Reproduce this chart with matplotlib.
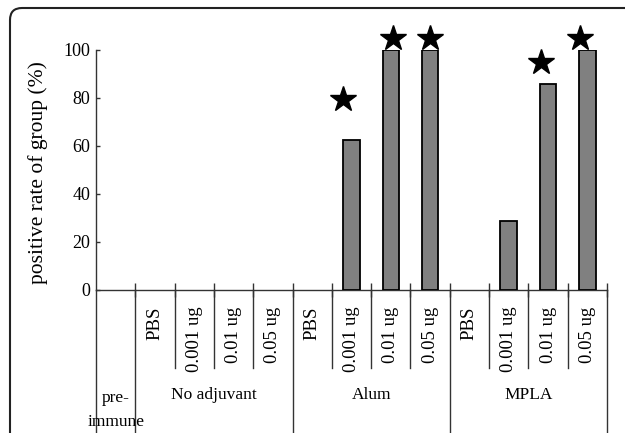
import matplotlib.pyplot as plt
from matplotlib.patches import FancyBboxPatch

plt.rcParams['font.family'] = ['Liberation Serif', 'DejaVu Serif']

groups = ['No adjuvant', 'Alum', 'MPLA']
doses = ['PBS', '0.001 ug', '0.01 ug', '0.05 ug']
first_label = 'pre-\nimmune'

# positive rate (%) per column: pre-immune, then 4 doses per group
pre_immune = [0]
no_adjuvant = [0, 0, 0, 0]
alum = [0, 62.5, 100, 100]
mpla = [0, 28.6, 85.7, 100]

# significance stars (column position, height in %)
star_x = [6.28, 7.56, 8.5, 11.33, 12.31]
star_y = [79.5, 105, 105, 95, 105]

values = pre_immune + no_adjuvant + alum + mpla
n = len(values)
line_col = '#333333'

fig = plt.figure(figsize=(6.25, 4.33), dpi=100)

# rounded outer frame
frame = FancyBboxPatch((0.10, -1.0), 7.0, 5.25, boxstyle="round,pad=0,rounding_size=0.12",
                       transform=fig.dpi_scale_trans, fill=False, edgecolor='#222222', linewidth=1.5)
fig.patches.append(frame)

ax = fig.add_axes([0.1536, 0.3303, 0.8176, 0.5543])
xs = [i + 0.5 for i in range(n)]
edges = ['black' if v > 0 else 'none' for v in values]
ax.bar(xs, values, width=0.42, color='#808080', edgecolor=edges, linewidth=1.3, zorder=3)
ax.plot(star_x, star_y, linestyle='none', marker='*', markersize=19, color='black', clip_on=False)

ax.set_xlim(0, n)
ax.set_ylim(0, 100)
ax.set_yticks([0, 20, 40, 60, 80, 100])
ax.set_xticks(range(1, n + 1))
ax.set_xticklabels([])
ax.tick_params(axis='y', direction='in', length=3, width=1, color=line_col, labelsize=13, pad=4)
ax.tick_params(axis='x', direction='inout', length=10, width=1, color=line_col)
for s in ['top', 'right']:
    ax.spines[s].set_visible(False)
for s in ['left', 'bottom']:
    ax.spines[s].set_color(line_col)
    ax.spines[s].set_linewidth(1)

ax.set_ylabel('positive rate of group (%)', fontsize=15.5)
ax.yaxis.set_label_coords(-0.094, 0.49)

# table lines under the axis
tr = ax.get_xaxis_transform()
for x in range(n + 1):
    bottom = -0.65 if (x - 1) % 4 == 0 or x == 0 else -0.325
    ax.plot([x, x], [0, bottom], transform=tr, color=line_col, linewidth=1, clip_on=False)

# dose labels
for g in range(len(groups)):
    for d, lab in enumerate(doses):
        ax.text(1 + 4 * g + d + 0.5, -0.068, lab, transform=tr, rotation=90,
                ha='center', va='top', fontsize=13.5)
    ax.text(1 + 4 * g + 2, -0.4375, groups[g], transform=tr, ha='center', va='center', fontsize=12.5)

ax.text(0.5, -0.5, first_label, transform=tr, ha='center', va='center', fontsize=12.5, linespacing=1.6)

fig.savefig('out.png', dpi=100)
